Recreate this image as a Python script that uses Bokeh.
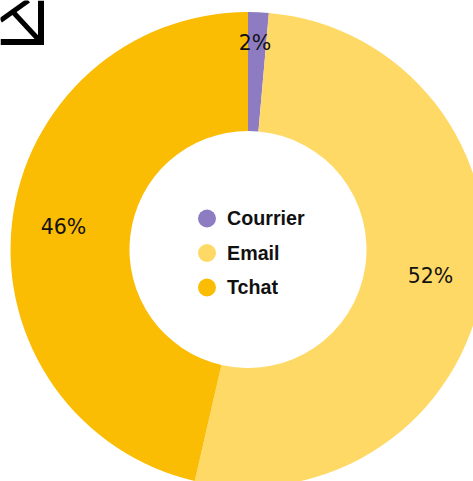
from math import pi
from bokeh.plotting import figure
from bokeh.core.properties import value
from bokeh.embed import file_html
from bokeh.resources import INLINE

categories = ["Courrier", "Email", "Tchat"]
shares = [1.4, 52.2, 46.4]
labels = ["2%", "52%", "46%"]
colors = ["#8E7CC3", "#FFD966", "#FBBC04"]

W, H = 473, 481
p = figure(width=W, height=H, x_range=(0, W), y_range=(0, H),
           output_backend="svg", toolbar_location=None, min_border=0)
p.axis.visible = False
p.grid.visible = False
p.outline_line_color = None
p.background_fill_color = "white"
p.border_fill_color = "white"

def Y(py):
    return H - py

cx, cy, R, r = 247.5, Y(249), 237.5, 118.5

# Donut, clockwise from 12 o'clock
total = sum(shares)
start = pi / 2
for s, c in zip(shares, colors):
    end = start - s / total * 2 * pi
    p.annular_wedge(x=cx, y=cy, inner_radius=r, outer_radius=R, start_angle=end, end_angle=start,
                    fill_color=c, line_color=None)
    start = end

# Slice labels
for (lx, ly), t in zip([(254.5, 42.5), (430, 275.5), (63, 226.5)], labels):
    p.text(x=[lx], y=[Y(ly)], text=[t], text_font=value("DejaVu Sans"), text_font_size="20.5px",
           text_color="#111111", text_align="center", text_baseline="middle")

# Centre legend
for ly, ty, t, c in zip([218, 252.5, 287], [217.5, 252.5, 286.5], categories, colors):
    p.scatter(x=[206.5], y=[Y(ly)], size=18, marker="circle", fill_color=c, line_color=None)
    p.text(x=[226.5], y=[Y(ty)], text=[t], text_font=value("Liberation Sans"), text_font_size="19.7px",
           text_font_style="bold", text_color="#111111", text_align="left", text_baseline="middle")

# Envelope icon, cut off by the corner
p.line(x=[0, 40.5, 40.5], y=[Y(41.5), Y(41.5), Y(0)], line_color="black", line_width=6, line_join="miter")
p.line(x=[0, 28], y=[Y(20), Y(0)], line_color="black", line_width=5)
p.line(x=[13, 38], y=[Y(12), Y(39)], line_color="black", line_width=5)

open("out.html", "w").write(file_html(p, INLINE))
